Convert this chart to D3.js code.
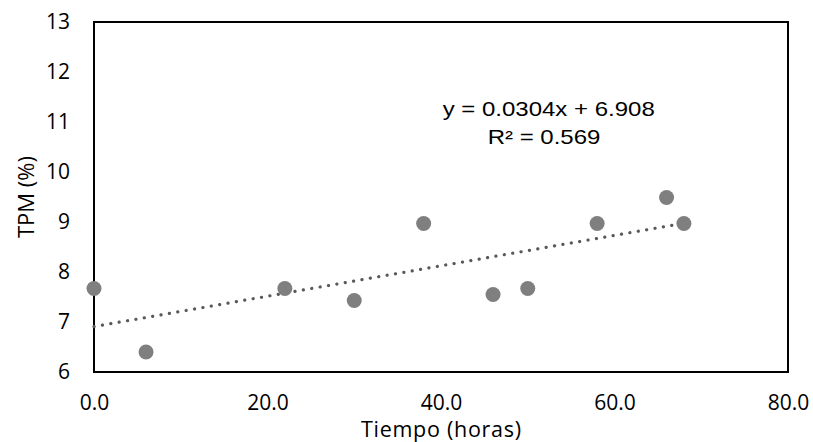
<!DOCTYPE html>
<html>
<head>
<meta charset="utf-8">
<script src="https://cdn.jsdelivr.net/npm/d3@7"></script>
<style>
  body { margin: 0; background: #fff; }
  svg { display: block; }
</style>
</head>
<body>
<svg id="chart" width="813" height="442"></svg>
<script>
// data
var hours = [0, 6, 22, 30, 38, 46, 50, 58, 66, 68];
var tpm = [7.67, 6.4, 7.67, 7.43, 8.97, 7.55, 7.67, 8.97, 9.49, 8.97];
var xTicks = [0, 20, 40, 60, 80];
var yTicks = [6, 7, 8, 9, 10, 11, 12, 13];
var trendSlope = 0.0304, trendIntercept = 6.908;
var eqLines = ["y = 0.0304x + 6.908", "R\u00b2 = 0.569"];

// plot box (note: "top" is taken by window.top, so use other names)
var plotL = 94, plotR = 788, plotT = 22, plotB = 372;
var tickFont = "'Open Sans', 'Noto Sans', sans-serif";

var svg = d3.select("#chart");

var x = d3.scaleLinear().domain([0, 80]).range([plotL, plotR]);
var y = d3.scaleLinear().domain([6, 13]).range([plotB, plotT]);

// frame
svg.append("rect")
    .attr("x", plotL).attr("y", plotT)
    .attr("width", plotR - plotL).attr("height", plotB - plotT)
    .attr("fill", "none").attr("stroke", "#000").attr("stroke-width", 2);

// y ticks
var yAxis = svg.append("g")
    .attr("transform", "translate(" + plotL + ",0)")
    .call(d3.axisLeft(y).tickValues(yTicks).tickSize(0).tickPadding(24).tickFormat(d3.format("d")));
yAxis.select(".domain").remove();
yAxis.selectAll("text")
    .attr("font-family", tickFont).attr("font-size", 21).attr("fill", "#000");

// x ticks
var xAxis = svg.append("g")
    .attr("transform", "translate(0," + plotB + ")")
    .call(d3.axisBottom(x).tickValues(xTicks).tickSize(0).tickPadding(23).tickFormat(d3.format(".1f")));
xAxis.select(".domain").remove();
xAxis.selectAll("text")
    .attr("font-family", tickFont).attr("font-size", 21).attr("fill", "#000");

// axis titles
svg.append("text")
    .attr("x", (plotL + plotR) / 2).attr("y", 437)
    .attr("text-anchor", "middle")
    .attr("font-family", tickFont).attr("font-size", 21.5)
    .attr("textLength", 160).attr("lengthAdjust", "spacing")
    .text("Tiempo (horas)");

svg.append("text")
    .attr("transform", "translate(34," + ((plotT + plotB) / 2) + ") rotate(-90)")
    .attr("text-anchor", "middle")
    .attr("font-family", tickFont).attr("font-size", 22)
    .text("TPM (%)");

// trend line
var trendX = [0, d3.max(hours)];
var line = d3.line()
    .x(function (d) { return x(d); })
    .y(function (d) { return y(trendSlope * d + trendIntercept); });
svg.append("path")
    .datum(trendX)
    .attr("d", line)
    .attr("fill", "none")
    .attr("stroke", "#595959")
    .attr("stroke-width", 3.2)
    .attr("stroke-linecap", "round")
    .attr("stroke-dasharray", "0.1 8.4");

// points
svg.selectAll("circle.pt")
    .data(hours)
    .enter()
    .append("circle")
    .attr("class", "pt")
    .attr("cx", function (d) { return x(d); })
    .attr("cy", function (d, i) { return y(tpm[i]); })
    .attr("r", 7.5)
    .attr("fill", "#7f7f7f");

// equation label (reference text is a bit wider than Arial, so stretch it)
var eqPos = [[548.7, 116], [544, 144]];
svg.selectAll("text.eq")
    .data(eqLines)
    .enter()
    .append("text")
    .attr("class", "eq")
    .attr("transform", function (d, i) {
        return "translate(" + eqPos[i][0] + "," + eqPos[i][1] + ") scale(1.2,1)";
    })
    .attr("text-anchor", "middle")
    .attr("font-family", "'Liberation Sans', Arial, sans-serif")
    .attr("font-size", 20)
    .attr("fill", "#000")
    .text(function (d) { return d; });
</script>
</body>
</html>
